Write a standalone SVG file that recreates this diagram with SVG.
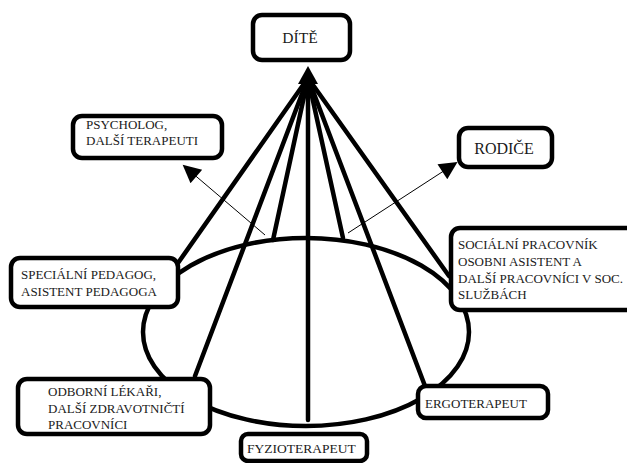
<svg xmlns="http://www.w3.org/2000/svg" width="627" height="463" viewBox="0 0 627 463">
<style>
.box{fill:#fff;stroke:#000;stroke-width:4.5}
text{font-family:'Liberation Serif','Times New Roman',serif;font-size:13px;fill:#1a1a1a}
.thick{stroke:#000;stroke-width:4.5;fill:none;stroke-linecap:round}
.thin{stroke:#000;stroke-width:1;fill:none}
</style>
<defs>
<marker id="ah" viewBox="0 0 10 10" refX="9" refY="5" markerWidth="20" markerHeight="18" markerUnits="userSpaceOnUse" orient="auto">
<path d="M0,0 L10,5 L0,10 Z" fill="#000"/>
</marker>
</defs>
<rect width="627" height="463" fill="#fff"/>
<g id="connectors">
<ellipse class="thick" cx="306" cy="332" rx="163" ry="94"/>
<line class="thick" x1="308" y1="78" x2="178" y2="263"/>
<line class="thick" x1="308" y1="78" x2="195" y2="376"/>
<line class="thick" x1="308" y1="78" x2="273" y2="240"/>
<line class="thick" x1="308" y1="78" x2="308" y2="420"/>
<line class="thick" x1="308" y1="78" x2="343" y2="238"/>
<line class="thick" x1="308" y1="78" x2="425" y2="386"/>
<line class="thick" x1="308" y1="78" x2="449" y2="276"/>
<polygon points="308,66 298,84 318,84" fill="#000"/>
<line class="thin" x1="265" y1="235" x2="184" y2="166" marker-end="url(#ah)"/>
<line class="thin" x1="348" y1="233" x2="456" y2="163" marker-end="url(#ah)"/>
</g>
<g id="dite">
<rect class="box" x="253" y="15" width="97" height="45" rx="9"/>
<text x="300" y="43" text-anchor="middle" style="font-size:15.5px">DÍTĚ</text>
</g>
<g id="psycholog">
<rect class="box" x="73" y="116" width="149" height="42" rx="9"/>
<text x="86" y="129">PSYCHOLOG,</text>
<text x="86" y="145">DALŠÍ TERAPEUTI</text>
</g>
<g id="rodice">
<rect class="box" x="459" y="128" width="93" height="39" rx="9"/>
<text x="504" y="154" text-anchor="middle" style="font-size:16px">RODIČE</text>
</g>
<g id="specialni">
<rect class="box" x="11" y="258" width="167" height="49" rx="9"/>
<text x="21" y="279">SPECIÁLNÍ PEDAGOG,</text>
<text x="21" y="296">ASISTENT PEDAGOGA</text>
</g>
<g id="socialni">
<rect class="box" x="451" y="228" width="190" height="82" rx="9"/>
<text x="458" y="249">SOCIÁLNÍ PRACOVNÍK</text>
<text x="458" y="266">OSOBNI ASISTENT A</text>
<text x="458" y="283">DALŠÍ PRACOVNÍCI V SOC.</text>
<text x="458" y="299">SLUŽBÁCH</text>
</g>
<g id="odborni">
<rect class="box" x="18" y="379" width="192" height="55" rx="9"/>
<text x="48" y="396">ODBORNÍ LÉKAŘI,</text>
<text x="48" y="413">DALŠÍ ZDRAVOTNIČTÍ</text>
<text x="48" y="429">PRACOVNÍCI</text>
</g>
<g id="fyzioterapeut">
<rect class="box" x="241" y="434" width="126" height="27" rx="7"/>
<text x="247" y="453" style="font-size:13.5px">FYZIOTERAPEUT</text>
</g>
<g id="ergoterapeut">
<rect class="box" x="418" y="386" width="130" height="32" rx="8"/>
<text x="425" y="408">ERGOTERAPEUT</text>
</g>
</svg>
